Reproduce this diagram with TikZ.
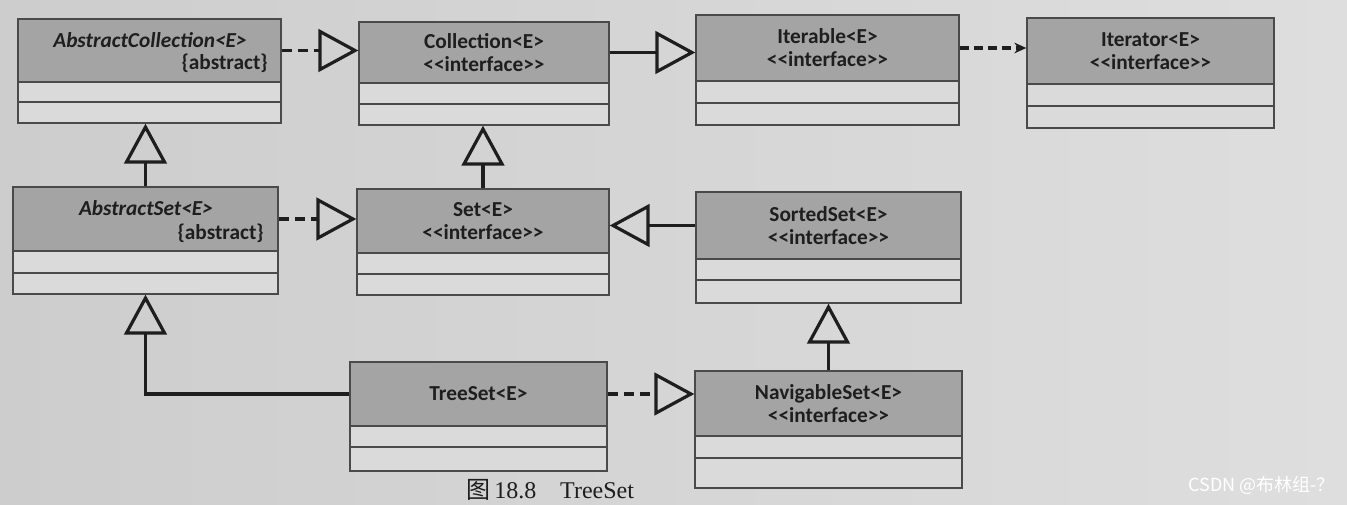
\documentclass[tikz,border=0pt]{standalone}
\usepackage{fontspec}
\setmainfont{Carlito}
\newfontfamily\cjk{Noto Sans CJK SC}
\newfontfamily\capserif{Liberation Serif}
\usetikzlibrary{arrows.meta,fit}
\definecolor{paperL}{HTML}{CDCDCD}
\definecolor{paperR}{HTML}{DEDEDE}
\definecolor{hdrgray}{HTML}{A4A4A4}
\definecolor{cmpgray}{HTML}{DADADA}
\definecolor{edgegray}{HTML}{4A4A4A}
\definecolor{inkc}{HTML}{1E1E1E}
\newcommand\llt{<\kern0pt<}
\newcommand\ggt{>\kern0pt>}
\newcommand\stereo{\llt interface\ggt}
\newcommand\umlclass[8]{%
  \node[cbox, fit={(#2,#3) (#4,#5)}] (#1) {};
  \node[chdr, fit={(#2,#3) (#4,#6)}] (#1H) {};
  \draw[sepline] (#2,#7) -- (#4,#7);
  \node[ctext] (#1T) at (#1H.center) {#8};
}
\begin{document}
\begin{tikzpicture}[x=0.75pt,y=-0.75pt,
  cbox/.style={draw=edgegray, line width=1pt, fill=cmpgray, inner sep=0pt},
  chdr/.style={draw=edgegray, line width=1pt, fill=hdrgray, inner sep=0pt},
  sepline/.style={draw=edgegray, line width=1pt},
  ctext/.style={align=center, text=inkc, font=\fontsize{16}{17.25}\selectfont\bfseries, inner sep=0pt},
  gen/.style={draw=inkc, line width=2.6pt, -{Triangle[open, length=30pt, width=32pt, line width=2.4pt]}},
  real/.style={gen, dash pattern=on 8pt off 4pt},
  dep/.style={draw=inkc, line width=2.6pt, dash pattern=on 7pt off 3.5pt, -{Stealth[length=9pt, width=8pt]}}
]
\useasboundingbox (0,0) rectangle (1347,504);
\shade[left color=paperL, right color=paperR] (0,0) rectangle (1347,504);

% classes
\umlclass{ac}{18}{19}{281}{123}{82}{102}{}
\node[ctext, font=\fontsize{16}{17.25}\selectfont\bfseries\itshape] (acT) at (150,40) {AbstractCollection<E>};
\node[ctext, anchor=east] (acA) at (268,63) {\{abstract\}};
\umlclass{coll}{359}{22}{609}{125}{83}{104}{Collection<E>\\\stereo}
\umlclass{iter}{696}{15}{959}{125}{81}{103}{Iterable<E>\\\stereo}
\umlclass{itor}{1027}{18}{1274}{128}{84}{106}{Iterator<E>\\\stereo}
\umlclass{as}{13}{187}{278}{294}{251}{273}{}
\node[ctext, font=\fontsize{16}{17.25}\selectfont\bfseries\itshape] (asT) at (146,208) {AbstractSet<E>};
\node[ctext, anchor=east] (asA) at (264,233) {\{abstract\}};
\umlclass{set}{357}{189}{609}{295}{253}{274}{Set<E>\\\stereo}
\umlclass{ss}{696}{192}{961}{303}{259}{280}{SortedSet<E>\\\stereo}
\umlclass{ts}{350}{362}{607}{471}{426}{447}{TreeSet<E>}
\umlclass{ns}{695}{371}{962}{488}{436}{458}{NavigableSet<E>\\\stereo}

% connectors
\draw[real] (acH.east) -- (acH.east -| coll.west);
\draw[gen] (collH.east) -- (collH.east -| iter.west);
\draw[dep] (iterH.east) -- (iterH.east -| itor.west);
\draw[gen] (as.north) -- (as.north |- ac.south);
\draw[gen] (set.north) -- (set.north |- coll.south);
\draw[real] (asH.east) -- (asH.east -| set.west);
\draw[gen] (ssH.west) -- (ssH.west -| set.east);
\draw[gen] (ns.north) -- (ns.north |- ss.south);
\draw[gen] (tsH.west) -| (as.south);
\draw[real] (tsH.east) -- (tsH.east -| ns.west);

% caption and watermark
\node[anchor=south west, inner sep=0pt, text=inkc, font=\fontsize{18}{19}\selectfont] (cap) at (466,501) {{\cjk 图}\,\capserif 18.8\quad TreeSet};
\node[anchor=east, inner sep=0pt, text=white, font=\fontsize{13.5}{14}\selectfont\cjk] (wm) at (1335,485) {CSDN @布林组-？};
\end{tikzpicture}
\end{document}
